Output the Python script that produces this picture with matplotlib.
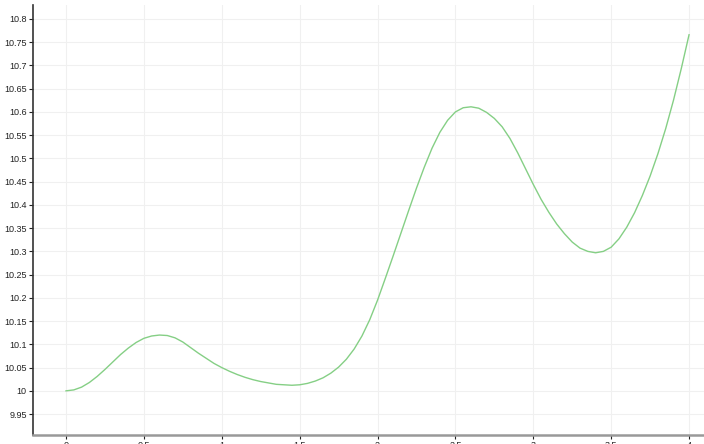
import matplotlib
matplotlib.use("Agg")
import matplotlib.pyplot as plt
from matplotlib.ticker import FuncFormatter, MultipleLocator

# sampled curve, step 0.05
x = [i * 0.05 for i in range(81)]
y = [10.000, 10.002, 10.008, 10.018, 10.031, 10.046, 10.062, 10.078, 10.092, 10.104,
     10.113, 10.118, 10.120, 10.119, 10.114, 10.105, 10.093, 10.081, 10.070, 10.059,
     10.050, 10.042, 10.035, 10.029, 10.024, 10.020, 10.017, 10.014, 10.013, 10.012,
     10.013, 10.016, 10.021, 10.028, 10.038, 10.051, 10.068, 10.090, 10.118, 10.153,
     10.195, 10.242, 10.290, 10.339, 10.388, 10.436, 10.481, 10.522, 10.556, 10.582,
     10.600, 10.609, 10.611, 10.608, 10.599, 10.586, 10.568, 10.543, 10.512, 10.478,
     10.444, 10.412, 10.384, 10.359, 10.338, 10.320, 10.307, 10.300, 10.297, 10.300,
     10.309, 10.327, 10.352, 10.383, 10.420, 10.462, 10.510, 10.564, 10.625, 10.693,
     10.766]

plt.rcParams['font.family'] = ['Liberation Sans', 'DejaVu Sans']

fig = plt.figure(figsize=(7.04, 4.44), dpi=100)
ax = fig.add_axes([33 / 704, 9 / 444, 1 - 33 / 704, 1 - 14 / 444])

ax.plot(x, y, color='#85cf85', linewidth=1.0)

ax.set_xlim(-0.212, 4.096)
ax.set_ylim(9.905, 10.83)
ax.xaxis.set_major_locator(MultipleLocator(0.5))
ax.yaxis.set_major_locator(MultipleLocator(0.05))
fmt = FuncFormatter(lambda v, p: '%g' % round(v, 2))
ax.xaxis.set_major_formatter(fmt)
ax.yaxis.set_major_formatter(fmt)

ax.grid(True, color='#f0f0f0', linewidth=0.8)
ax.set_axisbelow(True)
for s in ['top', 'right']:
    ax.spines[s].set_visible(False)
ax.spines['left'].set_color('#333333')
ax.spines['left'].set_linewidth(1.2)
ax.spines['bottom'].set_color('#999999')
ax.spines['bottom'].set_linewidth(1.8)
ax.tick_params(labelsize=6.5, length=3, width=0.8, colors='#222222', pad=1.5)

fig.savefig('out.png', dpi=100)
